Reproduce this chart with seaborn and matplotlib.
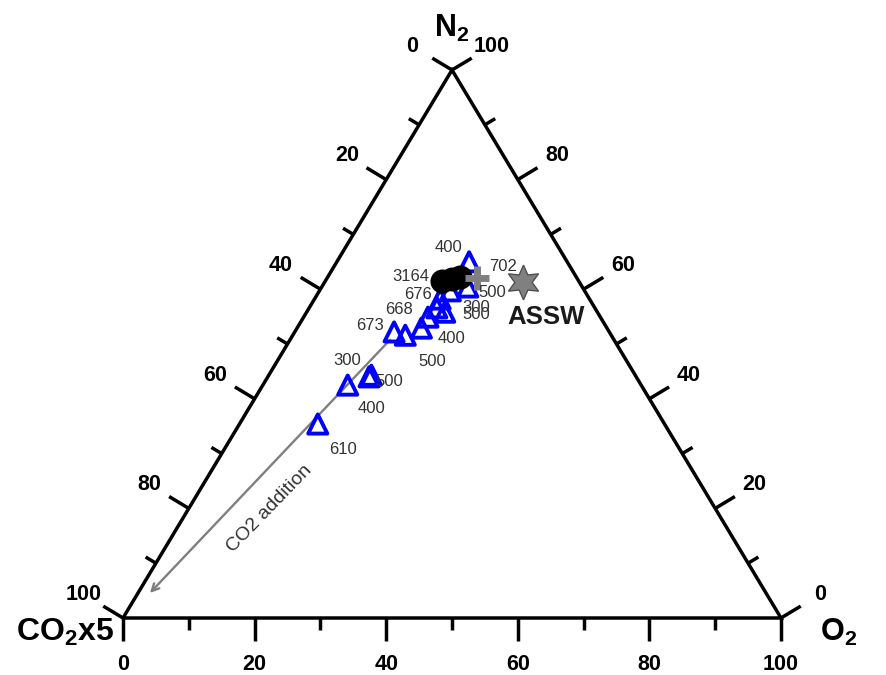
import numpy as np
import pandas as pd
import matplotlib
matplotlib.use("Agg")
import matplotlib.pyplot as plt
import seaborn as sns

# === DATA (ternary %: O2, N2, CO2x5) ===
tri_o2 = [20.1, 22.2, 19.9, 19.1, 21.0, 19.4, 18.9, 18.9, 17.1, 15.1, 15.6, 15.4, 12.9, 11.9]
tri_n2 = [65.0, 60.4, 59.7, 58.2, 55.8, 56.6, 54.9, 52.9, 51.6, 52.2, 44.3, 44.0, 42.5, 35.4]
tri_co2 = [14.9, 17.4, 20.4, 22.7, 23.2, 24.0, 26.2, 28.2, 31.3, 32.7, 40.1, 40.6, 44.6, 52.7]
tri_depth = ["400", "500", "", "676", "300", "500", "668", "400", "500", "673", "500", "400", "300", "610"]

dot_o2 = [17.8, 19.1, 20.1]
dot_n2 = [61.5, 61.9, 62.2]
dot_co2 = [20.7, 19.0, 17.7]
dot_depth = "3164"

plus_o2, plus_n2, plus_co2 = 22.8, 62.0, 15.2
plus_depth = "702"

assw_o2, assw_n2, assw_co2 = 30.2, 61.3, 8.5

# CO2 addition arrow (from, to) in ternary %
arrow_start = (15.3, 51.1, 33.6)
arrow_end = (1.7, 4.2, 94.1)

ticks = [0, 20, 40, 60, 80, 100]

# label offsets in pixels (right, down) relative to the point
tri_off = [(-21, -14), (24, 5), (0, 0), (-22, -5), (31, -5), (39, 7), (-29, -8),
           (30, 10), (27, 26), (-24, -6), (18, 6), (2, 32), (-1, -25), (25, 25)]


def tern(o, n, c):
    o, n, c = np.asarray(o, float), np.asarray(n, float), np.asarray(c, float)
    s = o + n + c
    return (o + n / 2) / s, n / s


# === FIGURE ===
sns.set_style("white")
plt.rcParams["font.family"] = ["Liberation Sans", "DejaVu Sans"]
plt.rcParams["text.color"] = "black"
fig = plt.figure(figsize=(8.86, 6.75), dpi=100)
ax = fig.add_axes([0, 0, 1, 1])
SX, SY = 658.0, 548.0  # pixels per data unit
ax.set_xlim(-123 / SX, (886 - 123) / SX)
ax.set_ylim(-57 / SY, 618 / SY)
ax.axis("off")

# triangle frame
ax.plot([0, 1, 0.5, 0], [0, 0, 1, 0], color="black", lw=2.5, solid_joinstyle="miter", zorder=2)

# ticks + labels
nl = np.array([-548.0, -330.0]); nl /= np.linalg.norm(nl)  # screen dirs (x right, y down)
nr = np.array([548.0, -330.0]); nr /= np.linalg.norm(nr)
nb = np.array([0.0, 1.0])


def side_pt(side, v):
    if side == "b":
        return tern(v, 0, 100 - v)
    if side == "l":
        return tern(0, 100 - v, v)
    return tern(100 - v, v, 0)


for side, nv in [("b", nb), ("l", nl), ("r", nr)]:
    for v in range(0, 101, 10):
        x0, y0 = side_pt(side, v)
        L = 23 if v % 20 == 0 else 12
        ax.plot([x0, x0 + nv[0] * L / SX], [y0, y0 - nv[1] * L / SY],
                color="black", lw=2.5, solid_capstyle="butt", zorder=2)
    for v in ticks:
        x0, y0 = side_pt(side, v)
        ax.text(x0 + nv[0] * 46 / SX, y0 - nv[1] * 46 / SY, str(v),
                ha="center", va="center", fontsize=15.5, fontweight="bold", color="black")

# vertex titles
ax.annotate(r"N$\mathregular{_2}$", (0.5, 1), xytext=(0, 42 * 0.72), textcoords="offset points",
            ha="center", va="center", fontsize=22, fontweight="bold", color="black")
ax.annotate(r"CO$\mathregular{_2}$x5", (0, 0), xytext=(-58 * 0.72, -14 * 0.72), textcoords="offset points",
            ha="center", va="center", fontsize=23, fontweight="bold", color="black")
ax.annotate(r"O$\mathregular{_2}$", (1, 0), xytext=(58 * 0.72, -14 * 0.72), textcoords="offset points",
            ha="center", va="center", fontsize=22, fontweight="bold", color="black")

# CO2 addition arrow
xs, ys = tern(*arrow_start)
xe, ye = tern(*arrow_end)
ax.annotate("", xy=(xe, ye), xytext=(xs, ys),
            arrowprops=dict(arrowstyle="->", color="#7f7f7f", lw=1.7, mutation_scale=13), zorder=3)
ax.text(0.222, 0.200, "CO2 addition", rotation=46, rotation_mode="anchor",
        ha="center", va="center", fontsize=14, color="#333333",
        transform=ax.transData)

# points
tx, ty = tern(tri_o2, tri_n2, tri_co2)
df_tri = pd.DataFrame({"x": tx, "y": ty, "depth": tri_depth})
sns.scatterplot(data=df_tri, x="x", y="y", marker="^", s=190, facecolor="none",
                edgecolor="#0000ff", linewidth=2.8, ax=ax, zorder=4)

dx, dy = tern(dot_o2, dot_n2, dot_co2)
df_dot = pd.DataFrame({"x": dx, "y": dy})
sns.scatterplot(data=df_dot, x="x", y="y", marker="o", s=300, color="black",
                edgecolor="black", linewidth=0, ax=ax, zorder=5)

px_, py_ = tern(plus_o2, plus_n2, plus_co2)
ax.plot(px_, py_, marker="+", ms=17, mew=5, color="#808080", zorder=6)

sx, sy = tern(assw_o2, assw_n2, assw_co2)
ax.plot(sx, sy, marker=(6, 1, 0), ms=25, mfc="#808080", mec="#505050", mew=1, zorder=6)
ax.annotate("ASSW", (sx, sy), xytext=(23 * 0.72, -35 * 0.72), textcoords="offset points",
            ha="center", va="center", fontsize=18.5, fontweight="bold", color="#1a1a1a")

# depth labels
for (x, y, lab), (ox, oy) in zip(df_tri[["x", "y", "depth"]].values, tri_off):
    if lab:
        ax.annotate(lab, (x, y), xytext=(ox * 0.72, -oy * 0.72), textcoords="offset points",
                    ha="center", va="center", fontsize=12, color="#333333", zorder=7)
ax.annotate(dot_depth, (dx[0], dy[0]), xytext=(-32 * 0.72, 4 * 0.72), textcoords="offset points",
            ha="center", va="center", fontsize=12, color="#333333", zorder=7)
ax.annotate(plus_depth, (px_, py_), xytext=(26 * 0.72, 12 * 0.72), textcoords="offset points",
            ha="center", va="center", fontsize=12, color="#333333", zorder=7)

if ax.get_legend():
    ax.get_legend().remove()

fig.savefig("out.png", dpi=100)
